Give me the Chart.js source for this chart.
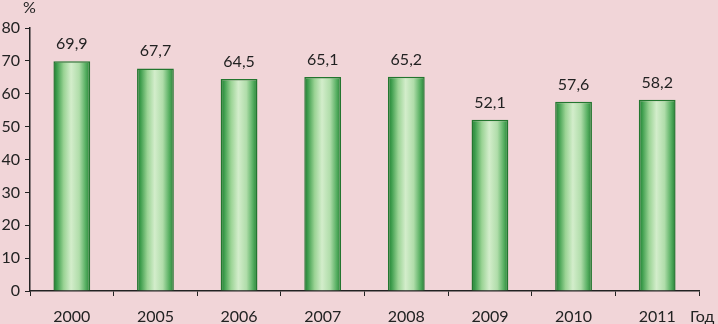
<!DOCTYPE html>
<html>
<head>
<meta charset="utf-8">
<script src="https://cdn.jsdelivr.net/npm/chart.js@4.4.0/dist/chart.umd.min.js"></script>
<style>
    html, body { margin: 0; padding: 0; background: #f1d5d8; }
    #wrap { width: 718px; height: 324px; position: relative; }
</style>
</head>
<body>
<div id="wrap"><canvas id="barChart"></canvas></div>
<script>
// Data
const years = ['2000', '2005', '2006', '2007', '2008', '2009', '2010', '2011'];
const shares = [69.9, 67.7, 64.5, 65.1, 65.2, 52.1, 57.6, 58.2];
const yTicks = [0, 10, 20, 30, 40, 50, 60, 70, 80];

const textColor = '#222';
const fontFamily = 'Lato, "Open Sans", sans-serif';

// gradient across each bar, dark edges and light middle
function barFill(context) {
    const chart = context.chart;
    const xs = chart.scales.x;
    if (!chart.chartArea || !xs) return '#5fb36a';
    const center = xs.getPixelForValue(context.dataIndex);
    const half = (xs.width / years.length) * 0.44 / 2;
    const g = chart.ctx.createLinearGradient(center - half, 0, center + half, 0);
    g.addColorStop(0, '#1f7a30');
    g.addColorStop(0.1, '#3f9e4e');
    g.addColorStop(0.28, '#9ad394');
    g.addColorStop(0.48, '#d3edcb');
    g.addColorStop(0.7, '#b0ddaa');
    g.addColorStop(0.88, '#55ae60');
    g.addColorStop(1, '#267f35');
    return g;
}

// value labels and axis captions
const labelsPlugin = {
    id: 'labelsPlugin',
    afterDatasetsDraw(chart) {
        const ctx = chart.ctx;
        const meta = chart.getDatasetMeta(0);
        ctx.save();
        ctx.fillStyle = textColor;
        ctx.font = '16px ' + fontFamily;
        ctx.textAlign = 'center';
        ctx.textBaseline = 'alphabetic';
        meta.data.forEach((bar, i) => {
            ctx.fillText(shares[i].toFixed(1).replace('.', ','), bar.x, bar.y - 12);
        });
        ctx.textAlign = 'left';
        ctx.fillText('%', 23, 13);
        ctx.fillText('Год', 690, 322);
        ctx.restore();
    }
};

new Chart(document.getElementById('barChart'), {
    type: 'bar',
    data: {
        labels: years,
        datasets: [{
            data: shares,
            backgroundColor: barFill,
            borderColor: '#23762f',
            borderWidth: 1.5,
            barPercentage: 0.44,
            categoryPercentage: 1
        }]
    },
    options: {
        responsive: true,
        maintainAspectRatio: false,
        animation: false,
        layout: { padding: { top: 28, right: 19, left: 0, bottom: 0 } },
        plugins: {
            legend: { display: false },
            tooltip: { enabled: false }
        },
        scales: {
            x: {
                grid: { drawOnChartArea: false, tickLength: 5, color: '#222', offset: true },
                border: { color: '#222', width: 1.5 },
                ticks: { color: textColor, font: { size: 16, family: fontFamily }, padding: 11 },
                afterFit: (scale) => { scale.height = 33; }
            },
            y: {
                min: 0,
                max: 80,
                afterBuildTicks: (scale) => { scale.ticks = yTicks.map(v => ({ value: v })); },
                grid: { drawOnChartArea: false, tickLength: 5, color: '#222' },
                border: { color: '#222', width: 1.5 },
                ticks: { color: textColor, font: { size: 16, family: fontFamily }, padding: 5 },
                afterFit: (scale) => { scale.width = 30; }
            }
        }
    },
    plugins: [labelsPlugin]
});
</script>
</body>
</html>
